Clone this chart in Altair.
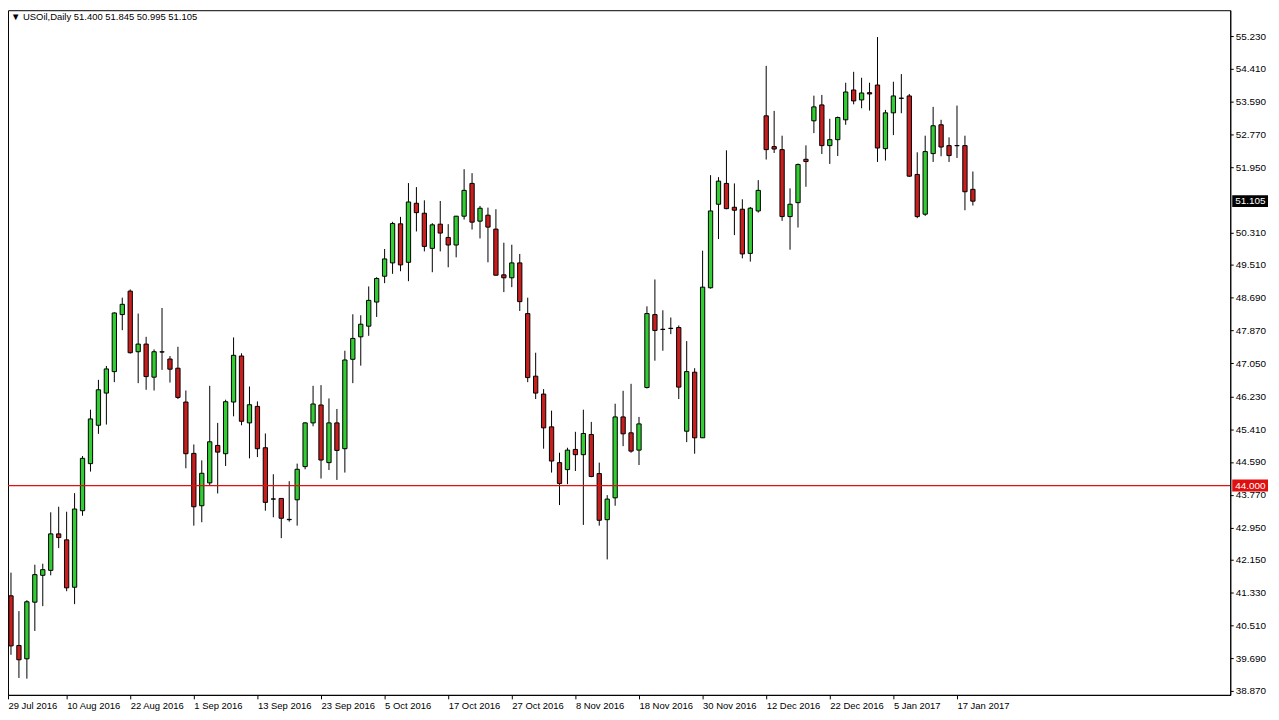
import json
import altair as alt
import pandas as pd

SYMBOL = "USOil,Daily"

# daily OHLC, one entry per trading bar (29 Jul 2016 .. 19 Jan 2017)
opens = [41.037, 41.245, 40.004, 39.671, 41.086, 41.757, 41.881, 42.792, 42.643, 41.459,
         43.371, 44.547, 45.506, 46.310, 46.846, 48.271, 48.857, 47.343, 47.534, 46.707,
         47.340, 47.161, 46.931, 46.086, 44.803, 43.495, 44.066, 45.002, 44.795, 46.086,
         47.236, 45.565, 45.977, 44.944, 43.665, 43.678, 43.155, 43.644, 44.473, 45.565,
         46.012, 44.572, 45.565, 44.920, 47.154, 47.715, 47.981, 48.584, 49.229, 49.562,
         50.538, 49.577, 51.052, 50.803, 49.925, 50.530, 50.198, 50.009, 50.729, 51.548,
         50.605, 50.754, 50.406, 49.264, 49.190, 49.562, 48.296, 46.732, 46.285, 45.466,
         44.572, 44.398, 44.902, 44.771, 45.275, 44.299, 43.147, 43.693, 45.714, 45.317,
         44.885, 46.449, 48.271, 47.904, 47.928, 47.948, 45.357, 46.831, 45.193, 48.941,
         51.027, 51.548, 50.952, 50.903, 49.800, 50.860, 53.236, 52.467, 52.392, 50.719,
         51.067, 52.151, 53.112, 53.509, 52.492, 52.641, 53.137, 53.882, 53.634, 53.815,
         54.006, 52.417, 53.311, 53.678, 53.733, 51.772, 50.779, 52.293, 53.013, 52.492,
         52.494, 52.492, 51.400]
highs = [41.608, 41.824, 40.863, 41.136, 42.022, 42.047, 43.331, 43.470, 43.346, 43.810,
         44.736, 45.895, 46.640, 46.988, 48.328, 48.693, 48.899, 48.296, 47.715, 47.402,
         48.435, 47.236, 47.467, 46.374, 45.026, 44.629, 46.491, 45.565, 46.144, 47.700,
         47.303, 46.474, 46.101, 45.300, 44.282, 43.686, 44.108, 44.547, 45.580, 46.491,
         46.508, 46.176, 45.913, 47.368, 48.279, 48.254, 48.974, 49.205, 49.910, 50.588,
         50.712, 51.556, 51.456, 51.126, 50.555, 51.109, 50.530, 50.736, 51.903, 51.804,
         50.985, 50.943, 50.903, 50.066, 50.016, 49.786, 48.693, 47.318, 46.409, 45.871,
         44.820, 44.944, 45.342, 45.895, 45.590, 44.572, 43.760, 46.044, 46.367, 46.541,
         45.714, 48.477, 49.148, 48.378, 48.197, 48.000, 47.608, 46.931, 49.867, 51.754,
         51.705, 52.375, 51.548, 51.151, 50.960, 51.630, 54.485, 53.360, 52.740, 51.424,
         52.045, 52.499, 53.740, 53.758, 53.162, 53.219, 54.063, 54.336, 54.187, 54.063,
         55.205, 53.385, 54.088, 54.279, 53.783, 52.325, 52.740, 53.460, 53.137, 52.698,
         53.492, 52.740, 51.845]
lows = [40.516, 39.771, 39.192, 39.175, 40.367, 40.987, 41.757, 42.437, 41.360, 41.037,
        43.246, 44.349, 45.292, 45.523, 46.583, 47.881, 47.298, 46.558, 46.392, 46.374,
        46.888, 46.573, 46.161, 44.431, 42.998, 43.083, 44.009, 43.802, 44.488, 45.729,
        45.506, 44.679, 44.711, 43.371, 43.207, 42.685, 43.097, 42.998, 44.406, 45.481,
        44.175, 44.388, 44.140, 44.324, 46.558, 46.995, 47.740, 48.212, 49.056, 49.289,
        49.354, 49.105, 50.347, 49.850, 49.329, 49.850, 49.453, 49.701, 50.645, 50.396,
        50.173, 49.577, 49.247, 48.832, 48.956, 48.361, 46.583, 46.161, 44.920, 44.324,
        43.512, 44.033, 44.363, 43.016, 44.208, 42.998, 42.154, 43.495, 44.984, 44.820,
        44.512, 46.424, 47.119, 47.368, 47.782, 46.161, 45.084, 44.795, 45.190, 48.920,
        50.158, 50.903, 50.257, 49.676, 49.594, 50.818, 52.144, 52.308, 50.612, 49.892,
        50.446, 51.464, 52.804, 52.283, 52.035, 52.233, 53.013, 53.524, 53.425, 53.368,
        52.084, 52.119, 52.755, 53.301, 51.712, 50.679, 50.736, 52.084, 52.226, 52.084,
        52.184, 50.878, 50.995]
closes = [41.384, 39.994, 39.647, 41.096, 41.774, 41.898, 42.792, 42.700, 41.444, 43.413,
          44.679, 45.664, 46.392, 46.913, 48.311, 48.527, 47.318, 47.534, 46.722, 47.343,
          47.335, 46.906, 46.201, 44.795, 43.470, 44.306, 45.093, 44.835, 46.094, 47.253,
          45.605, 46.019, 44.920, 43.579, 43.661, 43.182, 43.147, 44.406, 45.565, 46.037,
          44.637, 45.565, 44.877, 47.137, 47.675, 48.030, 48.626, 49.172, 49.661, 50.545,
          49.512, 51.084, 50.818, 49.974, 50.513, 50.307, 50.009, 50.729, 51.374, 50.580,
          50.928, 50.456, 49.254, 49.190, 49.562, 48.594, 46.697, 46.310, 45.441, 44.612,
          44.051, 44.885, 44.771, 45.300, 44.225, 43.132, 43.661, 45.714, 45.292, 44.860,
          45.540, 48.296, 47.874, 47.899, 47.924, 46.459, 46.846, 45.193, 48.956, 50.860,
          51.605, 50.918, 50.878, 49.786, 50.928, 51.374, 52.392, 52.407, 50.719, 51.027,
          52.020, 52.094, 53.460, 52.492, 52.641, 53.194, 53.832, 53.609, 53.807, 53.783,
          52.432, 53.311, 53.733, 53.673, 51.729, 50.719, 52.343, 52.988, 52.457, 52.243,
          52.490, 51.340, 51.105]

# date labels, one every 8 bars
date_labels = ["29 Jul 2016", "10 Aug 2016", "22 Aug 2016", "1 Sep 2016", "13 Sep 2016",
               "23 Sep 2016", "5 Oct 2016", "17 Oct 2016", "27 Oct 2016", "8 Nov 2016",
               "18 Nov 2016", "30 Nov 2016", "12 Dec 2016", "22 Dec 2016", "5 Jan 2017",
               "17 Jan 2017"]
price_ticks = [55.230, 54.410, 53.590, 52.770, 51.950, 50.310, 49.510, 48.690, 47.870,
               47.050, 46.230, 45.410, 44.590, 43.770, 42.950, 42.150, 41.330, 40.510,
               39.690, 38.870]
level_line = [44.000]

GREEN = "#32CD32"
RED = "#C81E1E"
LEVEL_RED = "#E01010"
FONT = "Liberation Sans"

df = pd.DataFrame({"i": list(range(len(opens))), "open": opens, "high": highs,
                   "low": lows, "close": closes})

X_MIN = 0.625
X_MAX = 154.375
x_scale = alt.Scale(domain=[X_MIN, X_MAX], nice=False, zero=False)
y_scale = alt.Scale(domain=[38.770, 55.875], nice=False, zero=False)

label_expr = json.dumps(date_labels) + "[round(datum.value / 8)]"
x_tick_values = [X_MIN] + [k * 8 for k in range(1, len(date_labels))]

X_AXIS = alt.Axis(values=x_tick_values, labelExpr=label_expr, title=None, grid=False,
                  tickColor="black", tickSize=4, domainColor="black",
                  labelAlign="left", labelBaseline="top", labelPadding=2,
                  labelFontSize=9.5, labelFont=FONT, labelColor="black",
                  labelOverlap=False, labelFlush=False, labelBound=False)
Y_AXIS = alt.Axis(orient="right", values=price_ticks, format=".3f", title=None,
                  grid=False, tickColor="black", tickSize=3, domainColor="black",
                  labelPadding=2, labelFontSize=10, labelFont=FONT,
                  labelColor="black", labelOverlap=False, labelFlush=False,
                  labelBound=False)

base = alt.Chart(df)

wicks = base.mark_rule(color="black", strokeWidth=1, clip=True).encode(
    x=alt.X("i:Q", scale=x_scale, axis=X_AXIS, title=None),
    y=alt.Y("low:Q", scale=y_scale, axis=Y_AXIS, title=None),
    y2="high:Q",
)

bodies = base.transform_calculate(
    xl="datum.i - 0.27", xr="datum.i + 0.27",
    dir="datum.close >= datum.open ? 'up' : 'down'",
).mark_rect(stroke="black", strokeWidth=1, clip=True).encode(
    x=alt.X("xl:Q", scale=x_scale, axis=X_AXIS, title=None),
    x2="xr:Q",
    y=alt.Y("open:Q", scale=y_scale, axis=Y_AXIS, title=None),
    y2="close:Q",
    color=alt.Color("dir:N", scale=alt.Scale(domain=["up", "down"], range=[GREEN, RED]),
                    legend=None),
)

# horizontal level line drawn across the whole plot
lvl_df = pd.DataFrame({"price": level_line, "x0": [X_MIN], "x1": [X_MAX]})
level = alt.Chart(lvl_df).mark_rule(strokeWidth=1.3, clip=True).encode(
    x=alt.X("x0:Q", scale=x_scale, axis=X_AXIS, title=None),
    x2="x1:Q",
    y=alt.Y("price:Q", scale=y_scale, axis=Y_AXIS, title=None),
    stroke=alt.value(LEVEL_RED),
)

tags_df = pd.DataFrame({"price": [closes[-1], level_line[0]],
                        "bg": ["last", "level"],
                        "txt": [f"{closes[-1]:.3f}", f"{level_line[0]:.3f}"]})
tag_box = alt.Chart(tags_df).mark_rule(strokeWidth=12, strokeCap="butt").encode(
    x=alt.value(1232), x2=alt.value(1268),
    y=alt.Y("price:Q", scale=y_scale, axis=Y_AXIS, title=None),
    color=alt.Color("bg:N", scale=alt.Scale(domain=["last", "level"],
                                            range=["#000000", LEVEL_RED]), legend=None),
)
tag_txt = alt.Chart(tags_df).mark_text(align="left", baseline="middle", color="white",
                                       font=FONT, fontSize=10).encode(
    x=alt.value(1235),
    y=alt.Y("price:Q", scale=y_scale, axis=Y_AXIS, title=None),
    text="txt:N",
)

header_df = pd.DataFrame({"t": [f"\u25BC {SYMBOL}  {opens[-1]:.3f} {highs[-1]:.3f} "
                                f"{lows[-1]:.3f} {closes[-1]:.3f}"]})
header = alt.Chart(header_df).mark_text(align="left", baseline="top", color="black",
                                        font=FONT, fontSize=9.5).encode(
    x=alt.value(3), y=alt.value(2), text="t:N"
)

chart = alt.layer(wicks, bodies, level, tag_box, tag_txt, header).properties(
    width=1230, height=689,
    autosize=alt.AutoSizeParams(type="none"),
    padding={"left": 0, "top": 0, "right": 41, "bottom": 14},
    background="white",
).configure_view(stroke="black", strokeWidth=1).resolve_scale(color="independent")

chart.save("out.html", embed_options={"renderer": "svg", "actions": False})
